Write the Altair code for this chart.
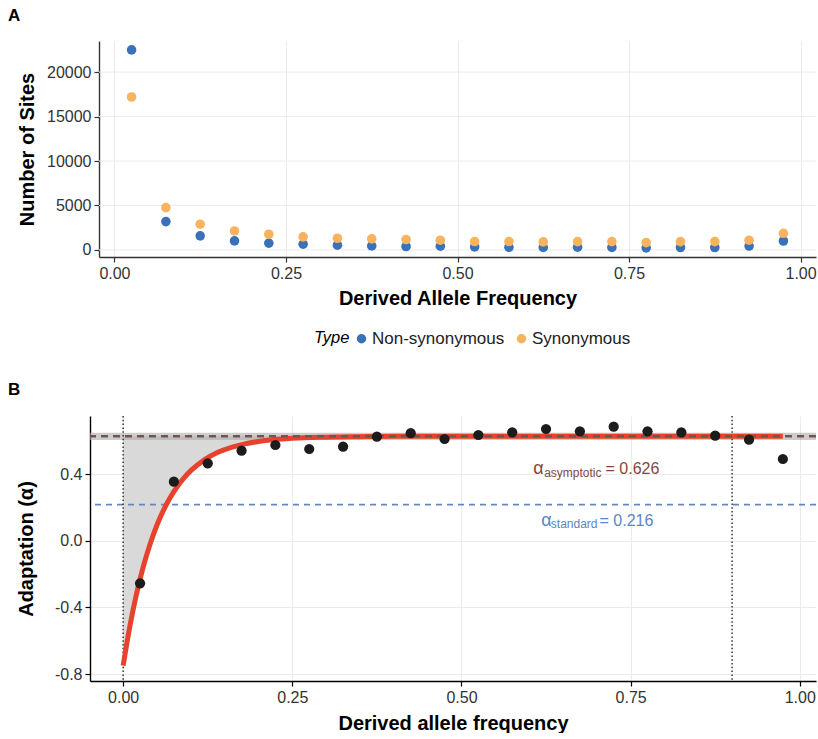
import altair as alt
import pandas as pd

FONT = "Liberation Sans"

# ---- Panel A: unfolded site frequency spectrum ----
freq_bins = [0.025, 0.075, 0.125, 0.175, 0.225, 0.275, 0.325, 0.375, 0.425, 0.475,
             0.525, 0.575, 0.625, 0.675, 0.725, 0.775, 0.825, 0.875, 0.925, 0.975]
nonsyn_sites = [22500, 3180, 1580, 1010, 750, 640, 530, 450, 380, 420,
                340, 290, 280, 300, 280, 230, 270, 270, 430, 1000]
syn_sites = [17200, 4750, 2890, 2130, 1760, 1460, 1310, 1240, 1160, 1090,
             940, 940, 900, 930, 930, 820, 930, 930, 1090, 1870]
site_types = ["Non-synonymous", "Synonymous"]
site_colors = ["#3a72b9", "#f8b35f"]
sites_ticks = [0, 5000, 10000, 15000, 20000]
freq_ticks = [0, 0.25, 0.5, 0.75, 1.0]

# ---- Panel B: alpha per frequency bin and the asymptotic fit ----
alpha_obs = [-0.256, 0.354, 0.464, 0.540, 0.574, 0.550, 0.564, 0.624, 0.645, 0.610,
             0.634, 0.650, 0.670, 0.656, 0.684, 0.656, 0.650, 0.630, 0.606, 0.490]
fit_freq = [0.0, 0.01, 0.02, 0.03, 0.04, 0.05, 0.06, 0.07, 0.08, 0.09, 0.10,
            0.12, 0.14, 0.16, 0.18, 0.20, 0.25, 0.30, 0.35, 0.40, 0.90, 0.975]
fit_alpha = [-0.75, -0.512, -0.315, -0.152, -0.018, 0.094, 0.186, 0.262, 0.325, 0.377, 0.42,
             0.485, 0.53, 0.56, 0.581, 0.595, 0.614, 0.621, 0.624, 0.626, 0.626, 0.626]
alpha_asymptotic = 0.626
alpha_ci = [0.604, 0.648]
alpha_standard = 0.216
freq_cutoffs = [0.0, 0.9]
alpha_ticks = [-0.8, -0.4, 0.0, 0.4]

W = 726
H_A = 216
H_B = 265
GRID = "#ebebeb"
BROWN = "#84493a"
BLUE_TXT = "#5a86c5"


def axis_style(**kw):
    base = dict(labelFont=FONT, titleFont=FONT, labelFontSize=16, labelColor="#333333",
                titleFontSize=20, titleFontWeight="bold", titleColor="black",
                tickSize=5, tickWidth=1.2, domainWidth=1.4)
    base.update(kw)
    return alt.Axis(**base)


# ---------------- Panel A ----------------
sfs = pd.DataFrame({
    "freq": freq_bins * 2,
    "sites": nonsyn_sites + syn_sites,
    "Type": [site_types[0]] * len(freq_bins) + [site_types[1]] * len(freq_bins),
})

xA = alt.X("freq:Q",
           scale=alt.Scale(domain=[-0.0225, 1.0225], range=[9, W], nice=False, zero=False),
           axis=axis_style(values=freq_ticks, format=".2f", title="Derived Allele Frequency",
                           grid=True, gridColor=GRID, gridWidth=1,
                           domainColor="#333333", tickColor="#333333",
                           labelPadding=3, titlePadding=7))
yA = alt.Y("sites:Q",
           scale=alt.Scale(domain=[-800, 23500], nice=False, zero=False),
           axis=axis_style(values=sites_ticks, format="d", title="Number of Sites",
                           grid=False, offset=-9, domainColor="#333333", tickColor="#333333",
                           labelPadding=3, titlePadding=9))

grid_a = alt.Chart(pd.DataFrame({"sites": sites_ticks})).mark_rule(
    color=GRID, strokeWidth=1
).encode(y=yA, x=alt.value(9), x2=alt.value(W))

points_a = alt.Chart(sfs).mark_circle(size=92, opacity=1).encode(
    x=xA, y=yA,
    color=alt.Color("Type:N",
                    scale=alt.Scale(domain=site_types, range=site_colors),
                    legend=alt.Legend(orient="none", legendX=224, legendY=289,
                                      direction="horizontal", titleOrient="left",
                                      title="Type", titleFont=FONT, titleFontSize=16.5,
                                      titleFontStyle="italic", titleFontWeight="normal",
                                      titleColor="black", titlePadding=3,
                                      labelFont=FONT, labelFontSize=17, labelColor="#222222",
                                      labelOffset=2, columnPadding=8,
                                      symbolType="circle", symbolSize=90,
                                      symbolStrokeWidth=0)),
)

panel_a = alt.layer(grid_a, points_a).properties(
    width=W, height=H_A,
    title=alt.TitleParams("A", anchor="start", frame="group", dx=-82, offset=16,
                          fontSize=17, fontWeight="bold", font=FONT, color="black"),
)

# ---------------- Panel B ----------------
pts = pd.DataFrame({"freq": freq_bins, "alpha": alpha_obs})
fit = pd.DataFrame({"freq": fit_freq, "alpha": fit_alpha,
                    "alpha_hi": [alpha_asymptotic] * len(fit_freq)})

xB = alt.X("freq:Q",
           scale=alt.Scale(domain=[-0.049, 1.024], nice=False, zero=False),
           axis=axis_style(values=freq_ticks, format=".2f", title="Derived allele frequency",
                           grid=True, gridColor=GRID, gridWidth=1,
                           domainColor="black", tickColor="black",
                           labelPadding=3, titlePadding=8))
yB = alt.Y("alpha:Q",
           scale=alt.Scale(domain=[-0.842, 0.748], nice=False, zero=False),
           axis=axis_style(values=alpha_ticks, format=".1f",
                           labelExpr="replace(datum.label, '\u2212', '-')",
                           title="Adaptation (\u03b1)",
                           grid=True, gridColor=GRID, gridWidth=1,
                           domainColor="black", tickColor="black",
                           labelPadding=3, titlePadding=18))

shade = alt.Chart(fit).transform_filter(alt.datum.freq <= freq_cutoffs[1]).mark_area(
    color="#d9d9d9", opacity=1, interpolate="monotone"
).encode(x=xB, y=yB, y2=alt.Y2("alpha_hi:Q"))

band = alt.Chart(pd.DataFrame({"alpha": [alpha_ci[0]], "alpha_hi": [alpha_ci[1]]})).mark_rect(
    color="#b3aaaa", opacity=0.6
).encode(y=yB, y2=alt.Y2("alpha_hi:Q"), x=alt.value(0), x2=alt.value(W))

std_line = alt.Chart(pd.DataFrame({"alpha": [alpha_standard]})).mark_rule(
    color="#6487bf", strokeWidth=1.8, strokeDash=[6, 5]
).encode(y=yB)

cut_lines = alt.Chart(pd.DataFrame({"freq": freq_cutoffs})).mark_rule(
    color="#333333", strokeWidth=1.5, strokeDash=[1.5, 2.3]
).encode(x=xB)

curve = alt.Chart(fit).mark_line(
    color="#e5432d", strokeWidth=5, interpolate="monotone"
).encode(x=xB, y=yB)

asym_line = alt.Chart(pd.DataFrame({"alpha": [alpha_asymptotic]})).mark_rule(
    color="#6e5656", strokeWidth=2.5, strokeDash=[7, 5]
).encode(y=yB)

points_b = alt.Chart(pts).mark_circle(size=105, color="#1c1c1c", opacity=1).encode(x=xB, y=yB)

lab_asym = pd.DataFrame({"freq": [0.71], "alpha": [0.40]})
lab_std = pd.DataFrame({"freq": [0.71], "alpha": [0.09]})


def label(df, text, color, align, dx, dy, size):
    return alt.Chart(df).mark_text(
        text=text, align=align, baseline="alphabetic", dx=dx, dy=dy,
        font=FONT, fontSize=size, color=color
    ).encode(x=xB, y=yB)


labels = [
    label(lab_asym, "\u03b1", BROWN, "right", -60, 0, 18),
    label(lab_asym, "asymptotic", BROWN, "right", -2, 3, 12),
    label(lab_asym, f"= {alpha_asymptotic:.3f}", BROWN, "left", 2, 0, 16),
    label(lab_std, "\u03b1", BLUE_TXT, "right", -52, 0, 18),
    label(lab_std, "standard", BLUE_TXT, "right", -6, 2, 12),
    label(lab_std, f"= {alpha_standard:.3f}", BLUE_TXT, "left", -4, 0, 16),
]

panel_b = alt.layer(shade, band, std_line, cut_lines, curve, asym_line, points_b, *labels).properties(
    width=W, height=H_B,
    title=alt.TitleParams("B", anchor="start", frame="group", dx=-82, offset=16,
                          fontSize=17, fontWeight="bold", font=FONT, color="black"),
)

chart = alt.vconcat(panel_a, panel_b, spacing=73).properties(
    padding={"left": 8, "top": 7, "right": 0, "bottom": 0},
    background="white",
).configure_view(stroke=None).configure_text(font=FONT)

chart.save("out.html", embed_options={"renderer": "svg", "actions": False})
